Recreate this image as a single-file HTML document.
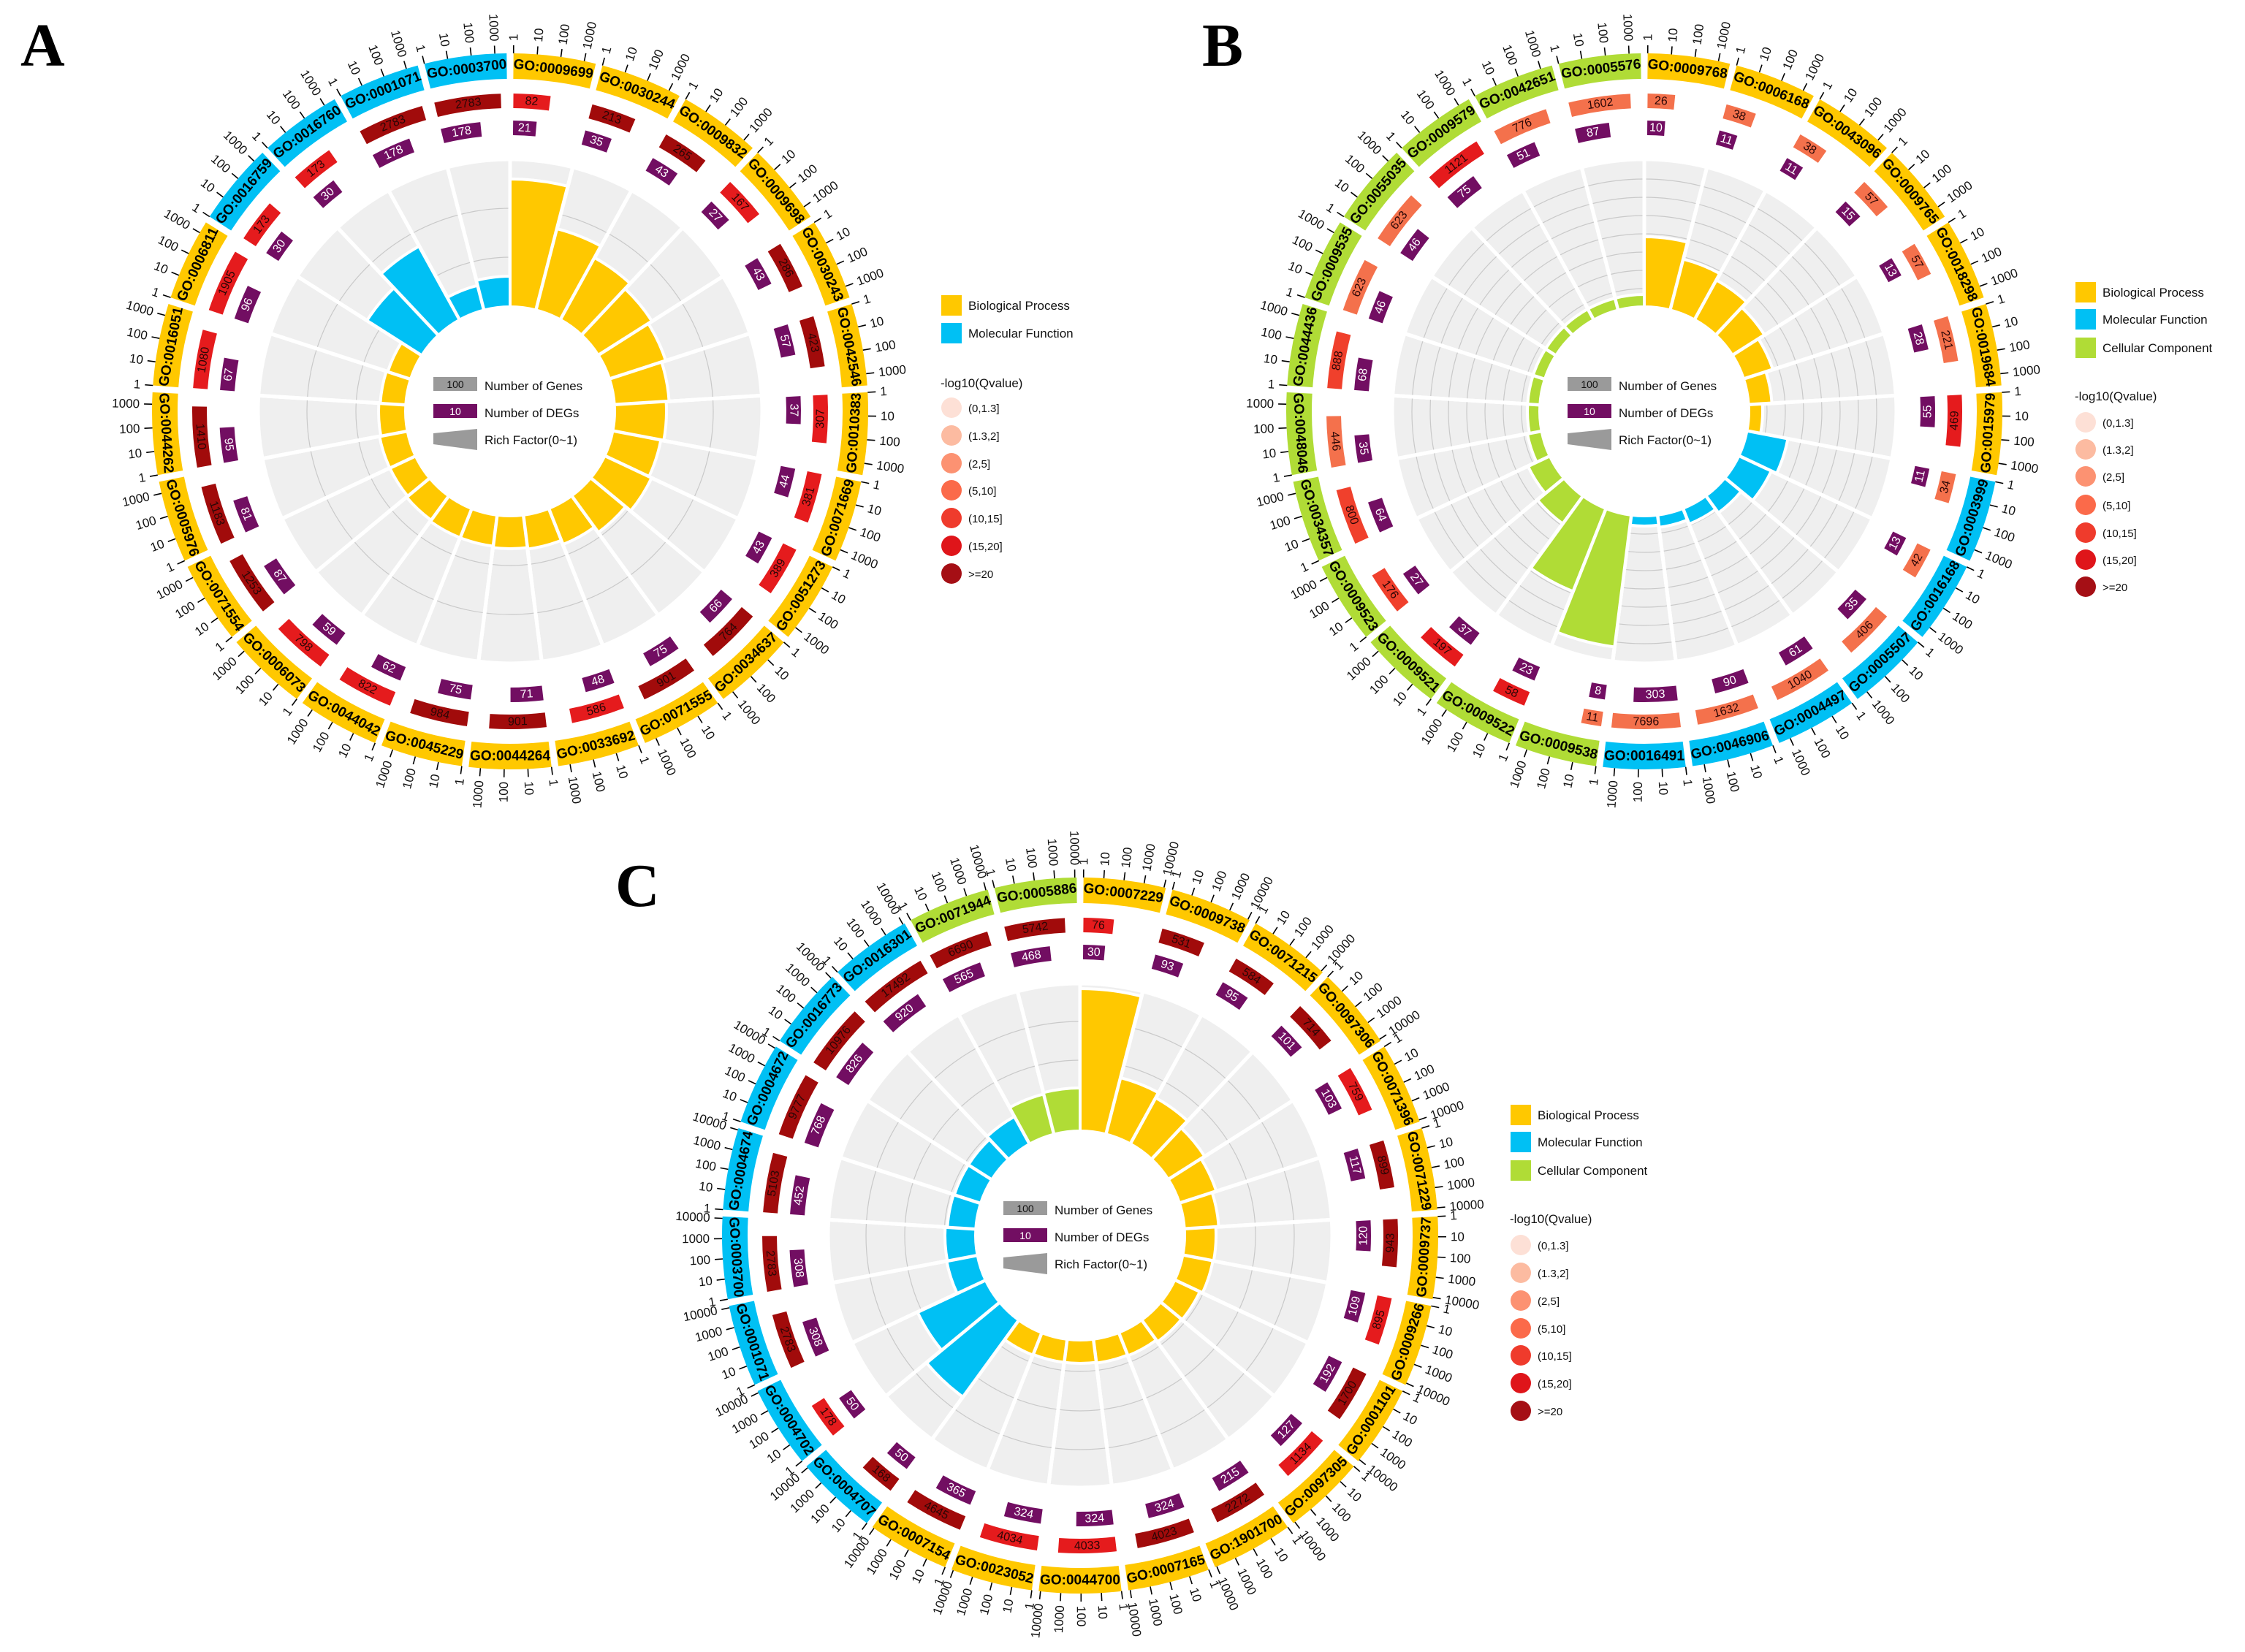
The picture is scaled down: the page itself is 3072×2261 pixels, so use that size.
<!DOCTYPE html>
<html><head><meta charset="utf-8">
<style>
html,body{margin:0;padding:0;background:#fff;}
svg{display:block;}
text{font-family:"Liberation Sans",sans-serif;}
</style></head>
<body>
<svg id="s" xmlns="http://www.w3.org/2000/svg" width="3072" height="2261" viewBox="0 0 3072 2261">
<rect width="3072" height="2261" fill="#fff"/>
<text x="28" y="90" style="font-family:'Liberation Serif',serif;font-weight:bold;font-size:84px" fill="#000">A</text>
<text x="1645" y="90" style="font-family:'Liberation Serif',serif;font-weight:bold;font-size:84px" fill="#000">B</text>
<text x="842" y="1240" style="font-family:'Liberation Serif',serif;font-weight:bold;font-size:84px" fill="#000">C</text>
</svg>
<script>
(function(){
var NS="http://www.w3.org/2000/svg",S=document.getElementById("s");
function el(t,a,txt,parent){var e=document.createElementNS(NS,t);for(var k in a)e.setAttribute(k,a[k]);if(txt!==undefined)e.textContent=txt;(parent||S).appendChild(e);return e;}
function P(cx,cy,r,a){var d=a*Math.PI/180;return [cx+r*Math.sin(d),cy-r*Math.cos(d)];}
function ann(cx,cy,r0,r1,a0,a1){var p1=P(cx,cy,r1,a0),p2=P(cx,cy,r1,a1),p3=P(cx,cy,r0,a1),p4=P(cx,cy,r0,a0);var lg=(a1-a0)>180?1:0;
return "M"+p1[0].toFixed(2)+","+p1[1].toFixed(2)+"A"+r1+","+r1+" 0 "+lg+" 1 "+p2[0].toFixed(2)+","+p2[1].toFixed(2)+"L"+p3[0].toFixed(2)+","+p3[1].toFixed(2)+"A"+r0+","+r0+" 0 "+lg+" 0 "+p4[0].toFixed(2)+","+p4[1].toFixed(2)+"Z";}
function tang(cx,cy,r,a,txt,attrs){var p=P(cx,cy,r,a);var aa=((a%360)+360)%360;var rot=(aa>90&&aa<270)?aa-180:aa;
var o={x:p[0].toFixed(1),y:p[1].toFixed(1),"text-anchor":"middle","dominant-baseline":"central",transform:"rotate("+rot.toFixed(2)+" "+p[0].toFixed(1)+" "+p[1].toFixed(1)+")"};for(var k in attrs)o[k]=attrs[k];el("text",o,txt);}
var CAT={Y:"#ffc800",B:"#00c0f4",G:"#b0dc36"};
var RC={D:"#a10b0b",R:"#e51b1d",M:"#f0402c",O:"#f4714c"};
function chart(c){
 var cx=c.cx,cy=c.cy,n=c.names.length,w=360/n;
 for(var i=0;i<n;i++){
  var a0=i*w,a1=(i+1)*w;
  el("path",{d:ann(cx,cy,143,345,a0,a1),fill:"#efefef",stroke:"#fff","stroke-width":5});
 }
 c.grid.forEach(function(r){el("circle",{cx:cx,cy:cy,r:r,fill:"none",stroke:"#c9c9c9","stroke-width":1.2});});
 for(var i=0;i<n;i++){
  var a0=i*w,a1=(i+1)*w,am=a0+w/2,cat=c.cats[i];
  var q0=P(cx,cy,143,a0),q1=P(cx,cy,346,a0);
  el("line",{x1:q0[0],y1:q0[1],x2:q1[0],y2:q1[1],stroke:"#fff","stroke-width":5});
  el("path",{d:ann(cx,cy,143,c.bars[i],a0,a1),fill:CAT[cat],stroke:"#fff","stroke-width":4});
  el("path",{d:ann(cx,cy,455,490,a0+0.55,a1-0.55),fill:CAT[cat]});
  tang(cx,cy,472,am,c.names[i],{"font-size":19,"font-weight":"bold",fill:"#000"});
  for(var k=0;k<c.nt;k++){
   var ta=a0+0.55+k*c.step;var t0=P(cx,cy,490,ta),t1=P(cx,cy,501,ta);
   el("line",{x1:t0[0].toFixed(1),y1:t0[1].toFixed(1),x2:t1[0].toFixed(1),y2:t1[1].toFixed(1),stroke:"#000","stroke-width":1.6});
   var lab=String(Math.pow(10,k));var tp=P(cx,cy,507,ta);var aa=((ta%360)+360)%360;var rot,anc;
   if(aa<180){rot=aa-90;anc="start";}else{rot=aa+90;anc="end";}
   el("text",{x:tp[0].toFixed(1),y:tp[1].toFixed(1),"text-anchor":anc,"dominant-baseline":"central","font-size":17,fill:"#111",transform:"rotate("+rot.toFixed(2)+" "+tp[0].toFixed(1)+" "+tp[1].toFixed(1)+")"},lab);
  }
  var v=c.red[i],f=Math.min(0.95,Math.max(0.2,Math.log(v)/Math.LN10/c.mx));var ra0=a0+0.6,ra1=a0+0.6+f*(w-1.2);
  el("path",{d:ann(cx,cy,415,435,ra0,ra1),fill:RC[c.rc[i]]});
  tang(cx,cy,425,(ra0+ra1)/2,String(v),{"font-size":16,fill:"#2a0606"});
  var u=c.pur[i],g=Math.min(0.95,Math.max(0.2,Math.log(u)/Math.LN10/c.mx));var pa0=a0+0.6,pa1=a0+0.6+g*(w-1.2);
  el("path",{d:ann(cx,cy,378,398,pa0,pa1),fill:"#720e62"});
  tang(cx,cy,388,(pa0+pa1)/2,String(u),{"font-size":16,fill:"#fff"});
 }
 el("rect",{x:cx-105,y:cy-47,width:60,height:19,fill:"#9a9a9a"});
 el("text",{x:cx-75,y:cy-32,"text-anchor":"middle","font-size":14,fill:"#111"},"100");
 el("text",{x:cx-35,y:cy-29,"font-size":17,fill:"#111"},"Number of Genes");
 el("rect",{x:cx-105,y:cy-10,width:60,height:19,fill:"#720e62"});
 el("text",{x:cx-75,y:cy+5,"text-anchor":"middle","font-size":14,fill:"#fff"},"10");
 el("text",{x:cx-35,y:cy+8,"font-size":17,fill:"#111"},"Number of DEGs");
 el("path",{d:"M"+(cx-105)+","+(cy+30)+"L"+(cx-45)+","+(cy+24)+"L"+(cx-45)+","+(cy+53)+"L"+(cx-105)+","+(cy+45)+"Z",fill:"#9a9a9a"});
 el("text",{x:cx-35,y:cy+45,"font-size":17,fill:"#111"},"Rich Factor(0~1)");
}
function legend(x,ys,cats,qy,cys){
 var names={Y:"Biological Process",B:"Molecular Function",G:"Cellular Component"};
 cats.forEach(function(ct,i){el("rect",{x:x,y:ys[i]-14,width:28,height:28,fill:CAT[ct]});el("text",{x:x+37,y:ys[i]+6,"font-size":17,fill:"#111"},names[ct]);});
 el("text",{x:x-1,y:qy,"font-size":17,fill:"#111"},"-log10(Qvalue)");
 var cc=["#fde0d6","#fcbba1","#fc9272","#fb6a4a","#ef3b2c","#df151a","#a50f15"],lb=["(0,1.3]","(1.3,2]","(2,5]","(5,10]","(10,15]","(15,20]",">=20"];
 cys.forEach(function(y,i){el("circle",{cx:x+14,cy:y,r:14,fill:cc[i]});el("text",{x:x+37,y:y+6,"font-size":15,fill:"#111"},lb[i]);});
}
chart({cx:698,cy:563,mx:3.75,nt:4,step:3.8,grid:[211,278],
 names:["GO:0009699","GO:0030244","GO:0009832","GO:0009698","GO:0030243","GO:0042546","GO:0010383","GO:0071669","GO:0051273","GO:0034637","GO:0071555","GO:0033692","GO:0044264","GO:0045229","GO:0044042","GO:0006073","GO:0071554","GO:0005976","GO:0044262","GO:0016051","GO:0006811","GO:0016759","GO:0016760","GO:0001071","GO:0003700"],
 cats:"YYYYYYYYYYYYYYYYYYYYYBBBB",
 bars:[318,258,240,230,224,218,214,210,214,205,196,190,188,186,186,184,182,182,180,178,176,232,258,178,185],
 red:[82,213,265,167,286,423,307,381,389,764,901,586,901,984,822,798,1253,1183,1410,1080,1905,173,173,2783,2783],
 rc:"RDDRDDRRRDDRDDRRDDDRRRRDD",
 pur:[21,35,43,27,43,57,37,44,43,66,75,48,71,75,62,59,87,81,95,67,96,30,30,178,178]});
chart({cx:2250,cy:563,mx:3.75,nt:4,step:3.8,grid:[168,193,218,243,268,293,318],
 names:["GO:0009768","GO:0006168","GO:0043096","GO:0009765","GO:0018298","GO:0019684","GO:0015979","GO:0003999","GO:0016168","GO:0005507","GO:0004497","GO:0046906","GO:0016491","GO:0009538","GO:0009522","GO:0009521","GO:0009523","GO:0034357","GO:0048046","GO:0044436","GO:0009535","GO:0055035","GO:0009579","GO:0042651","GO:0005576"],
 cats:"YYYYYYYBBBBBBGGGGGGGGGGGG",
 bars:[239,215,205,195,185,175,162,200,192,172,166,160,157,325,265,190,176,163,160,160,160,160,160,160,160],
 red:[26,38,38,57,57,221,469,34,42,406,1040,1632,7696,11,58,197,176,800,446,888,623,623,1121,776,1602],
 rc:"OOOOOORROOOOOOORRMMOMOOROO".slice(0,6)+"R"+"OOOOOOO"+"RRMMOMOORO"+"O",
 pur:[10,11,11,15,13,28,55,11,13,35,61,90,303,8,23,37,27,64,35,68,46,46,75,51,87]});
chart({cx:1478,cy:1691,mx:4.5,nt:5,step:3.25,grid:[186,240,293],
 names:["GO:0007229","GO:0009738","GO:0071215","GO:0097306","GO:0071396","GO:0071229","GO:0009737","GO:0009266","GO:0001101","GO:0097305","GO:1901700","GO:0007165","GO:0044700","GO:0023052","GO:0007154","GO:0004707","GO:0004702","GO:0001071","GO:0003700","GO:0004674","GO:0004672","GO:0016773","GO:0016301","GO:0071944","GO:0005886"],
 cats:"YYYYYYYYYYYYYYYBBBBBBBBGG",
 bars:[338,223,215,202,196,190,186,185,181,180,177,176,175,175,176,273,246,186,185,182,181,181,186,200,202],
 red:[76,531,584,714,759,899,943,895,1700,1134,2272,4023,4033,4034,4645,168,178,2783,2783,5103,9777,10976,17492,6690,5742],
 rc:"RDDDRDDRDRDDRRDDRDDDDDDDD",
 pur:[30,93,95,101,103,117,120,109,192,127,215,324,324,324,365,50,50,308,308,452,768,826,920,565,468]});
legend(1288,[418,456],["Y","B"],530,[558,596,634,671,709,747,785]);
legend(2840,[400,437,476],["Y","B","G"],548,[578,615,652,691,729,766,803]);
legend(2067,[1526,1563,1602],["Y","B","G"],1674,[1704,1742,1780,1818,1855,1893,1931]);
})();
</script>
</body></html>
